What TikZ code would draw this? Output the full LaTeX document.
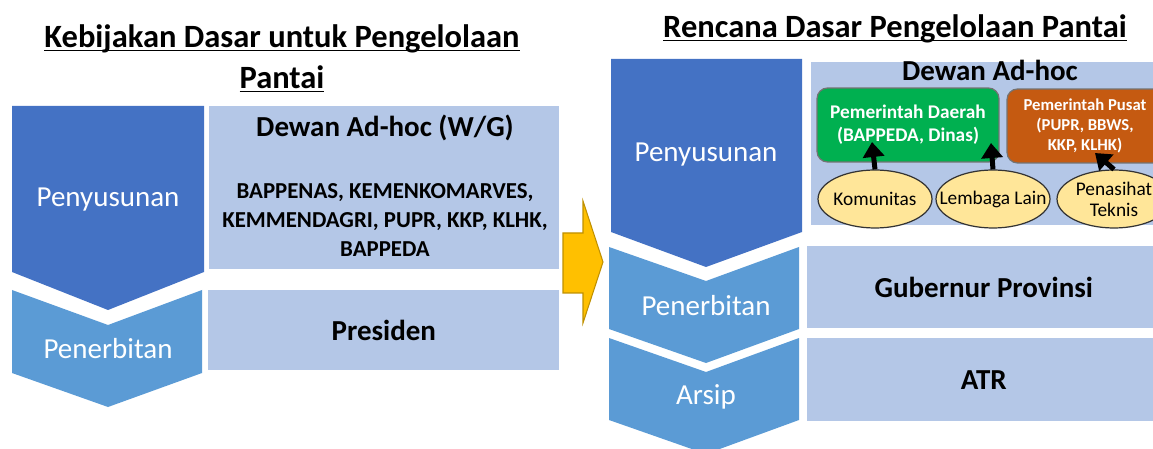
\documentclass[tikz,border=0pt]{standalone}
\usepackage{fontspec}
\setmainfont{Carlito}
\usetikzlibrary{shapes.geometric, arrows.meta, positioning, calc}
\definecolor{stagedark}{RGB}{68,114,196}
\definecolor{stagelight}{RGB}{91,155,213}
\definecolor{panel}{RGB}{180,199,231}
\definecolor{shiftcol}{RGB}{255,192,0}
\definecolor{regional}{RGB}{0,176,80}
\definecolor{central}{RGB}{197,90,17}
\definecolor{actorcol}{RGB}{255,230,153}
\newcommand{\headline}[1]{\underline{\raisebox{0pt}[\height][0pt]{#1}}}
\tikzset{
  heading/.style={font=\fontsize{18.5}{24}\selectfont\bfseries, inner sep=0pt},
  stage/.style={text=white, font=\fontsize{16.5}{20}\selectfont},
  panelbox/.style={rectangle, fill=panel, anchor=north west, inner sep=0pt,
                   font=\fontsize{16.5}{20}\selectfont\bfseries},
  paneltext/.style={font=\fontsize{16.5}{20}\selectfont\bfseries},
  member/.style={font=\fontsize{13}{16.7}\selectfont\bfseries, align=center},
  govbox/.style={rectangle, rounded corners=6pt, draw=black!55, line width=0.7pt,
                 text=white, align=center, inner sep=2pt, minimum height=1.48cm},
  actortext/.style={font=\fontsize{11}{12}\selectfont, align=center, inner sep=0pt},
  actor/.style={ellipse, draw=black!80, line width=0.7pt, fill=actorcol,
                minimum width=2.28cm, minimum height=1.16cm, inner sep=0pt,
                label={[actortext]center:#1}},
  pointer/.style={-{Triangle[length=0.3cm, width=0.42cm]}, line width=0.1cm, black},
  shiftarrow/.style={fill=shiftcol, draw=shiftcol!75!black, line width=0.6pt},
}
\begin{document}
\begin{tikzpicture}[x=0.02cm, y=-0.02cm]
  \useasboundingbox (0,0) rectangle (1153,449);
  \clip (0,0) rectangle (1153,449);

  % Left: basic policy
  \node[heading, anchor=base] (kbTitle) at (282,48) {\headline{Kebijakan Dasar untuk Pengelolaan}};
  \node[heading, anchor=base] (kbTitleB) at (282,89) {\headline{Pantai}};

  \fill[stagedark] (12,106) -- (204,106) -- (204,272) -- (108,310) -- (12,272) -- cycle;
  \fill[stagelight] (12,290) -- (108,325) -- (202,290) -- (202,373) -- (108,407) -- (12,373) -- cycle;
  \node[stage] (kbDraft) at (108,200) {Penyusunan};
  \node[stage] (kbIssue) at (108,349) {Penerbitan};

  \node[panelbox, minimum width=7cm, minimum height=3.26cm] (kbBoard) at (209,106) {};
  \node[paneltext] (kbBoardName) at (385,128) {Dewan Ad-hoc (W/G)};
  \node[member] (kbMembers) at (385,220)
    {BAPPENAS, KEMENKOMARVES,\\KEMMENDAGRI, PUPR, KKP, KLHK,\\BAPPEDA};
  \node[panelbox, minimum width=7.02cm, minimum height=1.6cm] (kbPresident) at (208,290) {Presiden};

  % Shift to the plan
  \draw[shiftarrow] (563,233) -- (583,233) -- (583,201) -- (603,262)
    -- (583,323) -- (583,293) -- (563,293) -- cycle;

  % Right: basic plan
  \node[heading, anchor=base] (rdTitle) at (895,38) {\headline{Rencana Dasar Pengelolaan Pantai}};

  \fill[stagedark] (611,59) -- (802,59) -- (802,232) -- (706,267) -- (611,232) -- cycle;
  \node[stage] (rdDraft) at (706,155) {Penyusunan};
  \foreach \top/\name/\txt in {247/rdIssue/Penerbitan, 338/rdArchive/Arsip}{
    \fill[stagelight] (609,\top) -- (706,\top+34) -- (799,\top) -- (799,\top+82)
      -- (706,\top+116) -- (609,\top+82) -- cycle;
    \node[stage] (\name) at (706,\top+59) {\txt};
  }

  \node[panelbox, minimum width=7cm, minimum height=3.26cm] (rdBoard) at (811,62) {};
  \node[paneltext, anchor=base] (rdBoardName) at (990,81) {Dewan Ad-hoc};
  \node[panelbox, minimum width=7.06cm, minimum height=1.64cm] (rdGovernor) at (807,246) {Gubernur Provinsi};
  \node[panelbox, minimum width=7.06cm, minimum height=1.66cm] (rdAtr) at (807,338) {ATR};

  \node[govbox, fill=regional, minimum width=3.64cm,
        font=\fontsize{11}{13}\selectfont\bfseries] (rdRegional) at (908,125)
    {Pemerintah Daerah\\(BAPPEDA, Dinas)};
  \node[govbox, fill=central, minimum width=3.12cm,
        font=\fontsize{9.5}{11.3}\selectfont\bfseries] (rdCentral) at (1085,126)
    {Pemerintah Pusat\\(PUPR, BBWS,\\KKP, KLHK)};

  \node[actor=Komunitas] (rdCommunity) at (875,199) {};
  \node[actor={Lembaga Lain}] (rdOther) at (993,199) {};
  \node[actor={Penasihat\\Teknis}] (rdAdvisor) at (1114,199) {};

  % Inputs to the boards
  \coordinate (rdRegionalInA) at (872,142);
  \coordinate (rdRegionalInB) at (991,143);
  \coordinate (rdCentralIn) at (1095,153);
  \draw[pointer] (rdCommunity.north) -- (rdRegionalInA);
  \draw[pointer] (rdOther.north) -- (rdRegionalInB);
  \draw[pointer] (rdAdvisor.north) -- (rdCentralIn);
\end{tikzpicture}
\end{document}
